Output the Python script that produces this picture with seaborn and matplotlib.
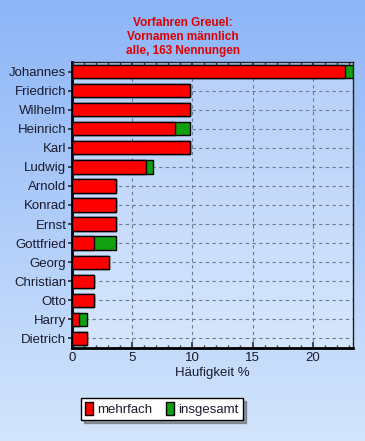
import numpy as np
import pandas as pd
import matplotlib
matplotlib.use("Agg")
import matplotlib.pyplot as plt
from matplotlib.ticker import MultipleLocator
from matplotlib.colors import LinearSegmentedColormap
from matplotlib.patches import Patch
import seaborn as sns

names = ["Johannes", "Friedrich", "Wilhelm", "Heinrich", "Karl", "Ludwig", "Arnold",
         "Konrad", "Ernst", "Gottfried", "Georg", "Christian", "Otto", "Harry", "Dietrich"]
mehrfach = [22.70, 9.82, 9.82, 8.59, 9.82, 6.13, 3.68, 3.68, 3.68, 1.84, 3.07, 1.84, 1.84, 0.61, 1.23]
insgesamt = [23.31, 9.82, 9.82, 9.82, 9.82, 6.75, 3.68, 3.68, 3.68, 3.68, 3.07, 1.84, 1.84, 1.23, 1.23]
title_lines = ["Vorfahren Greuel:", "Vornamen männlich", "alle, 163 Nennungen"]
xticks = [0, 5, 10, 15, 20]

df = pd.DataFrame({"name": names, "mehrfach": mehrfach, "insgesamt": insgesamt})

sns.set_theme(style="white")
plt.rcParams['font.family'] = ['Liberation Sans', 'DejaVu Sans']

fig = plt.figure(figsize=(3.65, 4.41), dpi=100)

# figure background gradient
bg = fig.add_axes([0, 0, 1, 1], zorder=-10)
grad = np.linspace(0, 1, 256).reshape(-1, 1)
cm_bg = LinearSegmentedColormap.from_list("bg", ["#8db5f7", "#d3e5fc"])
bg.imshow(grad, aspect="auto", cmap=cm_bg, extent=[0, 1, 0, 1])
bg.set_axis_off()

ax = fig.add_axes([72/365, (441-348)/441, (353-72)/365, (348-62)/441])
cm_ax = LinearSegmentedColormap.from_list("ax", ["#b7d0f9", "#d6e6fc"])
ax.imshow(grad, aspect="auto", cmap=cm_ax, extent=[0, 1, 0, 1],
          transform=ax.transAxes, zorder=0)

sns.barplot(data=df, y="name", x="insgesamt", orient="h", color="#10a010",
            saturation=1, width=0.7, edgecolor="black", linewidth=1.0, ax=ax, zorder=3)
sns.barplot(data=df, y="name", x="mehrfach", orient="h", color="#ff0000",
            saturation=1, width=0.7, edgecolor="black", linewidth=1.0, ax=ax, zorder=4)

ax.set_xlim(0, 23.35)
ax.set_ylim(len(names) - 0.5, -0.5)
ax.set_xticks(xticks)
ax.xaxis.set_minor_locator(MultipleLocator(1))
ax.set_xlabel("Häufigkeit %", fontsize=9.5, color="#1a1a2e", labelpad=2)
ax.set_ylabel("")
ax.grid(True, axis="both", which="major", linestyle=(0, (3, 3)), color="#6a7a99", linewidth=0.8, zorder=1)
ax.set_axisbelow(True)
ax.tick_params(axis="x", which="major", bottom=True, top=True, direction="in", length=4,
               labelsize=9.5, labelcolor="#1a1a2e", color="#333333", pad=3)
ax.tick_params(axis="x", which="minor", bottom=True, top=True, direction="in", length=2, color="#333333")
ax.tick_params(axis="y", left=True, direction="out", length=3, labelsize=9.5,
               labelcolor="#1a1a2e", color="#333333", pad=1)
for s in ["left", "bottom"]:
    ax.spines[s].set_linewidth(2.0)
    ax.spines[s].set_color("black")
for s in ["top", "right"]:
    ax.spines[s].set_linewidth(1.0)
    ax.spines[s].set_color("#222222")

fig.text(0.5, (441-37)/441, "\n".join(title_lines), ha="center", va="center",
         fontsize=8.5, fontweight="bold", color="#e00000", linespacing=1.25)

handles = [Patch(facecolor="#ff0000", edgecolor="black", label="mehrfach"),
           Patch(facecolor="#10a010", edgecolor="black", label="insgesamt")]
leg = fig.legend(handles=handles, loc="center", bbox_to_anchor=(162/365, (441-409)/441),
                 ncol=2, frameon=True, fancybox=False, shadow=True, fontsize=9.5,
                 handlelength=0.6, handleheight=1.2, handletextpad=0.35, columnspacing=1.0,
                 borderpad=0.3, borderaxespad=0)
leg.get_frame().set_edgecolor("black")
leg.get_frame().set_linewidth(1.0)
leg.get_frame().set_facecolor("white")
for t in leg.get_texts():
    t.set_color("#1a1a2e")

fig.savefig("out.png", dpi=100)
